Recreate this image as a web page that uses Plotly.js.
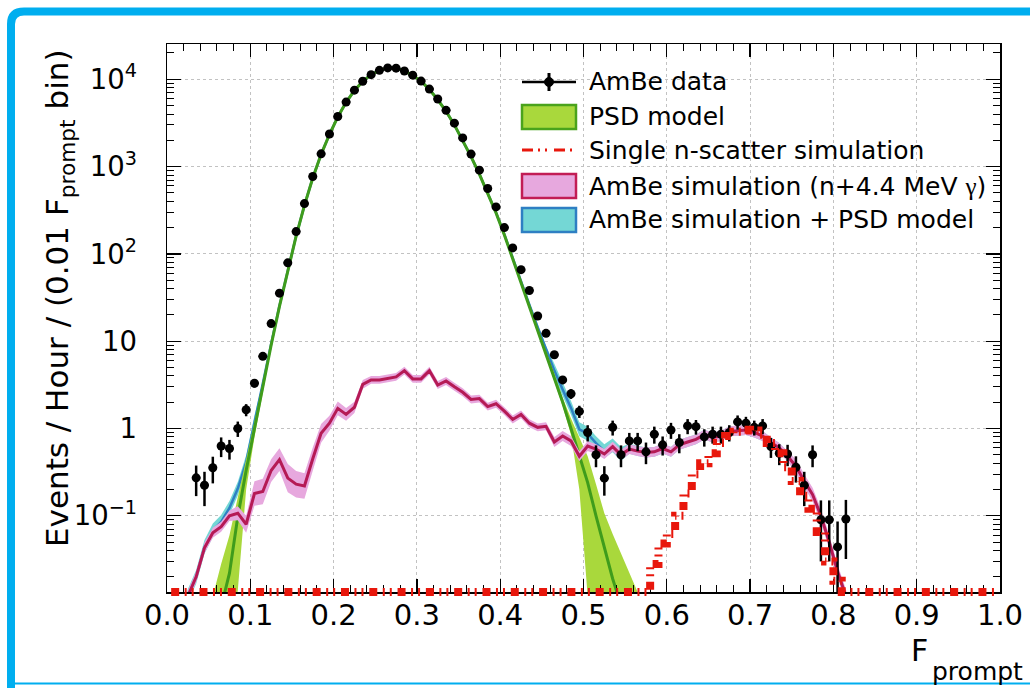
<!DOCTYPE html>
<html>
<head>
<meta charset="utf-8">
<script src="https://cdn.plot.ly/plotly-3.0.1.min.js"></script>
<style>
  html, body { margin: 0; padding: 0; background: #fff; }
  #chart { width: 1030px; height: 688px; }
</style>
</head>
<body>
<div id="chart"></div>
<script>
// ---- F_prompt histograms, 0.01-wide bins (values are events / hour / bin) ----
const BIN_WIDTH = 0.01;

// AmBe data: first bin centre 0.035
const dataFirst = 0.035;
const dataVals = [0.272, 0.224, 0.355, 0.63, 0.59, 1.0, 1.64, 3.3, 6.7, 15.9,
  35.5, 79, 180, 377, 770, 1400, 2360, 3750, 5480, 7500,
  9490, 11300, 12650, 13500, 13400, 12450, 11150, 9530, 7720, 5940,
  4410, 3140, 2130, 1390, 910, 561, 345, 200, 117, 65.9,
  38.1, 19.4, 12.3, 7.0, 3.6, 2.5, 1.57, 0.90, 0.50, 0.27,
  1.03, 0.50, 0.72, 0.72, 0.54, 0.86, 0.65, 0.96, 0.69, 1.07,
  1.05, 0.80, 0.86, 0.86, 0.90, 1.19, 1.15, 1.03, 1.07, 0.62,
  0.52, 0.51, 0.36, 0.224, 0.50, 0.090, 0.090, 0.044, 0.092];
const dataErr = [0.104, 0.095, 0.12, 0.16, 0.15, 0.2, 0.26, 0.36, 0.52, 0.8,
  1.2, 1.8, 2.7, 3.9, 5.5, 7.5, 9.7, 12, 15, 17,
  19, 21, 22, 23, 23, 22, 21, 20, 18, 15,
  13, 11, 9, 7.5, 6, 4.7, 3.7, 2.8, 2.2, 1.6,
  1.2, 0.9, 0.7, 0.53, 0.38, 0.32, 0.25, 0.19, 0.14, 0.10,
  0.2, 0.14, 0.17, 0.17, 0.15, 0.19, 0.16, 0.2, 0.17, 0.21,
  0.2, 0.18, 0.19, 0.19, 0.19, 0.22, 0.21, 0.2, 0.21, 0.16,
  0.14, 0.14, 0.12, 0.095, 0.14, 0.06, 0.06, 0.042, 0.06];

// PSD model with its uncertainty band: first bin centre 0.055
const psdFirst = 0.055;
const psdVals = [0.004, 0.009, 0.022, 0.098, 0.33, 1.0, 3.0, 9.0, 25, 64,
  160, 360, 740, 1380, 2330, 3700, 5450, 7450, 9450, 11300,
  12650, 13500, 13500, 12450, 11100, 9500, 7650, 5850, 4300, 3000,
  2000, 1300, 820, 500, 295, 165, 88, 47, 25, 13.5,
  7.2, 3.9, 2.0, 1.0, 0.5, 0.24, 0.10, 0.042, 0.019, 0.0095,
  0.005, 0.0025, 0.0012];
const psdLow = [0.0003, 0.0008, 0.004, 0.014, 0.2, 0.8, 2.6, 8.2, 23.5, 61,
  154, 348, 718, 1340, 2265, 3600, 5300, 7250, 9200, 11000,
  12300, 13130, 13130, 12100, 10790, 9230, 7430, 5680, 4170, 2910,
  1940, 1260, 795, 485, 286, 160, 85, 45.5, 24, 12.8,
  6.7, 3.55, 1.8, 0.85, 0.2, 0.012, 0.002, 0.001, 0.001, 0.001,
  0.001, 0.001, 0.001];
const psdHigh = [0.012, 0.028, 0.06, 0.16, 0.45, 1.2, 3.4, 9.8, 26.5, 67,
  166, 372, 762, 1420, 2395, 3800, 5600, 7650, 9700, 11600,
  13000, 13870, 13870, 12800, 11410, 9770, 7870, 6020, 4430, 3090,
  2060, 1340, 845, 515, 304, 170, 91, 49, 26, 14.2,
  7.7, 4.25, 2.25, 1.3, 0.8, 0.48, 0.23, 0.107, 0.062, 0.037,
  0.022, 0.0135, 0.008];

// AmBe simulation (n + 4.4 MeV gamma): first bin centre 0.015
const simFirst = 0.015;
const simVals = [0.004, 0.012, 0.020, 0.043, 0.064, 0.075, 0.100, 0.107, 0.080, 0.18,
  0.19, 0.33, 0.44, 0.27, 0.23, 0.22, 0.45, 0.88, 1.15, 1.7,
  1.45, 1.75, 3.2, 3.6, 3.6, 3.75, 3.9, 4.6, 3.7, 3.7,
  4.6, 3.15, 3.5, 3.0, 2.6, 2.15, 2.2, 1.78, 1.92, 1.58,
  1.27, 1.45, 1.15, 1.03, 1.06, 0.70, 0.82, 0.72, 0.48, 0.63,
  0.58, 0.51, 0.62, 0.50, 0.58, 0.55, 0.53, 0.54, 0.59, 0.54,
  0.65, 0.70, 0.75, 0.85, 0.79, 0.82, 0.93, 0.94, 0.96, 0.90,
  0.82, 0.69, 0.60, 0.48, 0.37, 0.25, 0.175, 0.10, 0.05, 0.023,
  0.012, 0.004];
const simRelErr = [0.15, 0.15, 0.15, 0.15, 0.14, 0.14, 0.15, 0.2, 0.25, 0.38,
  0.4, 0.35, 0.35, 0.45, 0.42, 0.4, 0.35, 0.28, 0.22, 0.2,
  0.18, 0.16, 0.12, 0.11, 0.11, 0.11, 0.11, 0.11, 0.11, 0.11,
  0.11, 0.11, 0.11, 0.11, 0.11, 0.11, 0.11, 0.11, 0.11, 0.11,
  0.11, 0.11, 0.11, 0.11, 0.11, 0.14, 0.14, 0.14, 0.14, 0.14,
  0.14, 0.14, 0.14, 0.14, 0.14, 0.14, 0.14, 0.14, 0.14, 0.14,
  0.14, 0.14, 0.14, 0.14, 0.14, 0.14, 0.14, 0.14, 0.14, 0.14,
  0.14, 0.14, 0.14, 0.14, 0.2, 0.2, 0.2, 0.2, 0.2, 0.2,
  0.2, 0.2];

// AmBe simulation + PSD model: first bin centre 0.015
const sumFirst = 0.015;
const sumVals = [0.004, 0.012, 0.020, 0.044, 0.068, 0.085, 0.123, 0.205, 0.41, 1.18,
  3.2, 9.3, 25.4, 64, 160, 360, 740, 1380, 2330, 3700,
  5450, 7450, 9450, 11300, 12650, 13500, 13500, 12450, 11100, 9500,
  7650, 5850, 4300, 3000, 2000, 1300, 820, 500, 297, 167,
  89, 48.5, 26.2, 14.5, 8.3, 4.6, 2.8, 1.72, 0.98, 0.87,
  0.68, 0.55, 0.64, 0.51, 0.585, 0.553, 0.531, 0.54, 0.59, 0.54,
  0.65, 0.70, 0.75, 0.85, 0.79, 0.82, 0.93, 0.94, 0.96, 0.90,
  0.82, 0.69, 0.60, 0.48, 0.37, 0.25, 0.175, 0.10, 0.05, 0.023,
  0.012, 0.004];
const sumRelErr = [0.2, 0.2, 0.2, 0.2, 0.2, 0.2, 0.2, 0.2, 0.2, 0.2,
  0.08, 0.08, 0.08, 0.03, 0.03, 0.03, 0.03, 0.03, 0.03, 0.03,
  0.03, 0.03, 0.03, 0.03, 0.03, 0.03, 0.03, 0.03, 0.03, 0.03,
  0.03, 0.03, 0.03, 0.03, 0.03, 0.03, 0.03, 0.03, 0.03, 0.03,
  0.03, 0.03, 0.06, 0.06, 0.06, 0.2, 0.2, 0.2, 0.2, 0.2,
  0.2, 0.2, 0.2, 0.2, 0.14, 0.14, 0.14, 0.14, 0.14, 0.14,
  0.14, 0.14, 0.14, 0.14, 0.14, 0.14, 0.14, 0.14, 0.14, 0.14,
  0.14, 0.14, 0.14, 0.14, 0.14, 0.14, 0.14, 0.14, 0.14, 0.14,
  0.14, 0.14];

// Single n-scatter simulation: all 100 bins from 0.005 to 0.995
const scatterFirst = 0.005;
const scatterVals = [0, 0, 0, 0, 0, 0, 0, 0, 0, 0,
  0, 0, 0, 0, 0, 0, 0, 0, 0, 0,
  0, 0, 0, 0, 0, 0, 0, 0, 0, 0,
  0, 0, 0, 0, 0, 0, 0, 0, 0, 0,
  0, 0, 0, 0, 0, 0, 0, 0, 0, 0,
  0, 0, 0, 0, 0, 0, 0, 0, 0.028, 0.048,
  0.062, 0.10, 0.18, 0.30, 0.40, 0.52, 0.68, 0.82, 0.92, 0.97,
  0.95, 0.85, 0.68, 0.52, 0.36, 0.25, 0.17, 0.12, 0.065, 0.03,
  0.018, 0, 0, 0, 0, 0, 0, 0, 0, 0,
  0, 0, 0, 0, 0, 0, 0, 0, 0, 0];

// legend entries
const legendLabels = [
  'AmBe data',
  'PSD model',
  'Single n-scatter simulation',
  'AmBe simulation (n+4.4 MeV <span style="font-family:\'Liberation Serif\'">γ</span>)',
  'AmBe simulation + PSD model'
];

// ---- helpers ----
const centres = (first, n) => Array.from({length: n}, (_, i) => +(first + i * BIN_WIDTH).toFixed(4));

const FONT = 'DejaVu Sans, Liberation Sans, Arial, sans-serif';
const W = 1030, H = 688;
const M = {l: 167, r: 30, t: 44, b: 90};
const plotW = W - M.l - M.r, plotH = H - M.t - M.b;
const AXIS_DROP = 6;                       // px between frame bottom and the paper bottom
const X = px => (px - M.l) / plotW;        // page px -> paper x
const Y = py => (H - M.b - py) / plotH;    // page py -> paper y

const yRange = [-1.873, 4.404];
const decadePx = (plotH - AXIS_DROP) / (yRange[1] - yRange[0]);
const y2Range = [yRange[0] - AXIS_DROP / decadePx, yRange[1]];

function band(xs, lo, hi, fill) {
  return {
    type: 'scatter', mode: 'lines',
    x: xs.concat(xs.slice().reverse()),
    y: hi.concat(lo.slice().reverse()),
    fill: 'toself', fillcolor: fill, line: {width: 0},
    hoverinfo: 'skip', showlegend: false
  };
}

const COL = {
  green: '#a9d83c', greenLine: '#3f9c1c',
  pink: '#e7a8de', pinkLine: '#b51a55',
  cyan: '#74d7d5', blueLine: '#2e80c3',
  red: '#e8170c', frame: '#00aeef'
};

// ---- traces ----
const sumX = centres(sumFirst, sumVals.length);
const sumLo = sumVals.map((v, i) => v / (1 + sumRelErr[i]));
const sumHi = sumVals.map((v, i) => v * (1 + sumRelErr[i]));

const psdX = centres(psdFirst, psdVals.length);

const simX = centres(simFirst, simVals.length);
const simLo = simVals.map((v, i) => v / (1 + simRelErr[i]));
const simHi = simVals.map((v, i) => v * (1 + simRelErr[i]));

const dataX = centres(dataFirst, dataVals.length);

// empty bins of the n-scatter histogram sit on the frame bottom
const floorVal = Math.pow(10, yRange[0]);
const scatterX = centres(scatterFirst, scatterVals.length);
const scatterY = scatterVals.map(v => Math.max(v, floorVal));

const traces = [
  band(sumX, sumLo, sumHi, COL.cyan),
  {type: 'scatter', mode: 'lines', x: sumX, y: sumVals,
   line: {color: COL.blueLine, width: 2.5}, hoverinfo: 'skip', showlegend: false},

  band(psdX, psdLow, psdHigh, COL.green),
  {type: 'scatter', mode: 'lines', x: psdX, y: psdVals,
   line: {color: COL.greenLine, width: 3}, hoverinfo: 'skip', showlegend: false},

  band(simX, simLo, simHi, COL.pink),
  {type: 'scatter', mode: 'lines', x: simX, y: simVals,
   line: {color: COL.pinkLine, width: 3}, hoverinfo: 'skip', showlegend: false},

  {type: 'scatter', mode: 'markers', x: dataX, y: dataVals,
   marker: {color: '#000', size: 9, symbol: 'circle'},
   error_y: {type: 'data', array: dataErr, visible: true, color: '#000', thickness: 2.5, width: 0},
   error_x: {type: 'constant', value: BIN_WIDTH / 2, visible: true, color: '#000', thickness: 2, width: 0},
   hoverinfo: 'skip', showlegend: false},

  // drawn on a twin subplot that reaches a few px below the frame, so the
  // thick dash-dot line along the bottom is not cut in half
  {type: 'scatter', mode: 'lines', x: scatterX, y: scatterY, xaxis: 'x2', yaxis: 'y2',
   line: {color: COL.red, width: 8, shape: 'hvh', dash: '8px,5.5px,2px,5px,2px,5.8px'},
   hoverinfo: 'skip', showlegend: false}
];

// ---- legend (drawn by hand in ROOT style) ----
const legRows = [82, 117, 150, 186, 220];
const symL = 522, symR = 576, symC = (symL + symR) / 2;
const shapes = [];
const paperShape = o => Object.assign({xref: 'paper', yref: 'paper', layer: 'above'}, o);

// data symbol: line + dot + vertical bar
shapes.push(paperShape({type: 'line', x0: X(symL), x1: X(symR), y0: Y(legRows[0]), y1: Y(legRows[0]),
  line: {color: '#000', width: 2.5}}));
shapes.push(paperShape({type: 'line', x0: X(symC), x1: X(symC), y0: Y(legRows[0] - 9), y1: Y(legRows[0] + 9),
  line: {color: '#000', width: 3}}));
shapes.push(paperShape({type: 'circle', x0: X(symC - 4.5), x1: X(symC + 4.5), y0: Y(legRows[0] - 4.5), y1: Y(legRows[0] + 4.5),
  fillcolor: '#000', line: {color: '#000', width: 1}}));
// filled boxes
[[1, COL.green, '#4aa31c'], [3, COL.pink, '#c21d55'], [4, COL.cyan, '#2e7fc3']].forEach(([r, f, c]) => {
  shapes.push(paperShape({type: 'rect', x0: X(symL), x1: X(symR), y0: Y(legRows[r] - 12), y1: Y(legRows[r] + 12),
    fillcolor: f, line: {color: c, width: 2.5}}));
});
// dash-dot line
shapes.push(paperShape({type: 'line', x0: X(symL), x1: X(symR), y0: Y(legRows[2]), y1: Y(legRows[2]),
  line: {color: COL.red, width: 3, dash: '11px,5px,2px,5px,2px,7px'}}));

// outer blue frame
shapes.push(paperShape({type: 'path',
  path: `M ${X(11)},${Y(700)} L ${X(11)},${Y(24)} Q ${X(11)},${Y(11.5)} ${X(24)},${Y(11.5)} L ${X(1045)},${Y(11.5)}`,
  line: {color: COL.frame, width: 8}}));
shapes.push(paperShape({type: 'line', x0: X(11), x1: X(1045), y0: Y(683.5), y1: Y(683.5),
  line: {color: COL.frame, width: 2}}));

const annotations = legendLabels.map((t, i) => ({
  xref: 'paper', yref: 'paper', x: X(587), y: Y(legRows[i]), xanchor: 'left', yanchor: 'middle',
  text: t, showarrow: false, font: {family: FONT, size: 25, color: '#000'}
}));

// axis titles
annotations.push({xref: 'paper', yref: 'paper', x: X(59), y: Y(298), xanchor: 'center', yanchor: 'middle',
  textangle: -90, showarrow: false, font: {family: FONT, size: 31, color: '#000'},
  text: 'Events / Hour / (0.01 F<sub>prompt</sub> bin)'});
annotations.push({xref: 'paper', yref: 'paper', x: X(930), y: Y(650), xanchor: 'right', yanchor: 'middle',
  showarrow: false, font: {family: FONT, size: 30, color: '#000'}, text: 'F'});
annotations.push({xref: 'paper', yref: 'paper', x: X(930), y: Y(671), xanchor: 'left', yanchor: 'middle',
  showarrow: false, font: {family: FONT, size: 25, color: '#000'}, text: 'prompt'});

const axisCommon = {
  ticks: 'inside', tickcolor: '#000', tickwidth: 1.3,
  showline: true, linecolor: '#000', linewidth: 1.5, mirror: 'allticks',
  showgrid: true, gridcolor: '#c2c2c2', griddash: 'dot', gridwidth: 1,
  zeroline: false
};

const layout = {
  width: W, height: H,
  margin: {l: M.l, r: M.r, t: M.t, b: M.b, pad: 0},
  paper_bgcolor: '#fff', plot_bgcolor: 'rgba(0,0,0,0)',
  showlegend: false, hovermode: false,
  font: {family: FONT, color: '#000'},
  xaxis: Object.assign({}, axisCommon, {
    range: [0, 1], domain: [0, 1], anchor: 'y',
    tick0: 0, dtick: 0.1, tickformat: '.1f', ticklen: 13,
    minor: {ticks: 'inside', ticklen: 7, tickcolor: '#000', tickwidth: 1, dtick: 0.02, showgrid: false},
    tickfont: {family: FONT, size: 29, color: '#000'}, ticklabelstandoff: -3
  }),
  yaxis: Object.assign({}, axisCommon, {
    type: 'log', range: yRange, domain: [AXIS_DROP / plotH, 1], anchor: 'x',
    dtick: 1, exponentformat: 'power', ticklen: 14,
    minor: {ticks: 'inside', ticklen: 7, tickcolor: '#000', tickwidth: 1, dtick: 'D1', showgrid: false},
    tickfont: {family: FONT, size: 22, color: '#000'}, ticklabelstandoff: 24
  }),
  xaxis2: {range: [0, 1], domain: [0, 1], anchor: 'y2', visible: false},
  yaxis2: {type: 'log', range: y2Range, domain: [0, 1], anchor: 'x2', visible: false},
  shapes: shapes,
  annotations: annotations
};

Plotly.newPlot('chart', traces, layout, {displayModeBar: false, staticPlot: true});
</script>
</body>
</html>
